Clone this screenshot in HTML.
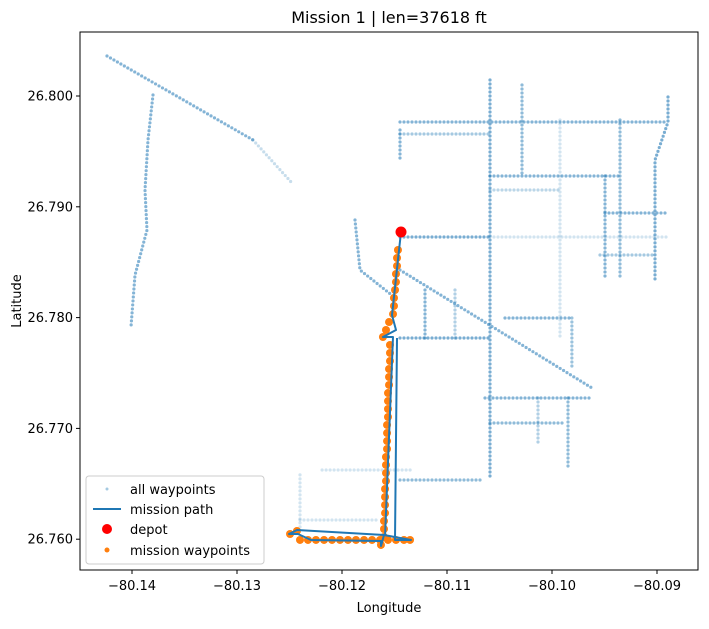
<!DOCTYPE html>
<html><head><meta charset="utf-8"><style>
body{margin:0;background:#fff;font-family:"Liberation Sans","DejaVu Sans",sans-serif;}
svg text{font-family:"DejaVu Sans","Liberation Sans",sans-serif;fill:#000;}
</style></head><body>
<svg id="chart" width="709" height="624" viewBox="0 0 709 624" xmlns="http://www.w3.org/2000/svg">
<rect x="0" y="0" width="709" height="624" fill="#fff"/>
<text x="389" y="23" font-size="16" text-anchor="middle">Mission 1 | len=37618 ft</text>
<g id="plot"></g>
<rect x="80" y="32" width="618" height="538" fill="none" stroke="#000" stroke-width="1"/>
<g id="axes"></g>
<text x="389" y="612" font-size="13" text-anchor="middle">Longitude</text>
<text x="21" y="301" font-size="13" text-anchor="middle" transform="rotate(-90 21 301)">Latitude</text>
<g>
<rect x="86" y="476" width="178" height="88" rx="3" fill="#fff" fill-opacity="0.8" stroke="#ccc"/>
<circle cx="107" cy="489" r="1.5" fill="#1f77b4" opacity="0.4"/>
<text x="130" y="494" font-size="13">all waypoints</text>
<line x1="93" y1="509" x2="121" y2="509" stroke="#1f77b4" stroke-width="2"/>
<text x="130" y="514" font-size="13">mission path</text>
<circle cx="107" cy="529" r="5" fill="#ff0000"/>
<text x="130" y="534" font-size="13">depot</text>
<circle cx="107" cy="550" r="2.5" fill="#ff7f0e"/>
<text x="130" y="555" font-size="13">mission waypoints</text>
</g>
</svg>
<script>
const xTicks=[-80.14,-80.13,-80.12,-80.11,-80.10,-80.09];
const xTickLabels=["\u221280.14","\u221280.13","\u221280.12","\u221280.11","\u221280.10","\u221280.09"];
const yTicks=[26.76,26.77,26.78,26.79,26.80];
const yTickLabels=["26.760","26.770","26.780","26.790","26.800"];
// street polylines of all waypoints: [lon,lat,...], alpha
const streets=[
[[-80.14238,26.80361,-80.12848,26.79603],0.55],
[[-80.12848,26.79603,-80.12476,26.79215],0.25],
[[-80.13800,26.80009,-80.13848,26.79603,-80.13876,26.79152,-80.13857,26.78791,-80.13971,26.78384,-80.14010,26.77906],0.55],
[[-80.10590,26.80144,-80.10590,26.76534],0.6],
[[-80.08895,26.79991,-80.08895,26.79765,-80.09019,26.79422,-80.09019,26.78339],0.6],
[[-80.11448,26.79765,-80.08895,26.79765],0.55],
[[-80.11448,26.79657,-80.10590,26.79657],0.4],
[[-80.11448,26.79693,-80.11448,26.79422],0.55],
[[-80.10590,26.79278,-80.09352,26.79278],0.55],
[[-80.10590,26.79152,-80.09924,26.79152],0.3],
[[-80.09495,26.78944,-80.08895,26.78944],0.55],
[[-80.11448,26.78727,-80.10590,26.78727],0.6],
[[-80.10590,26.78727,-80.08895,26.78727],0.2],
[[-80.09543,26.78565,-80.09019,26.78565],0.4],
[[-80.10286,26.80099,-80.10286,26.79278],0.5],
[[-80.09924,26.79783,-80.09924,26.77798],0.2],
[[-80.09495,26.79278,-80.09495,26.78339],0.55],
[[-80.09352,26.79783,-80.09352,26.78339],0.5],
[[-80.11448,26.78430,-80.09619,26.77365],0.55],
[[-80.10448,26.77996,-80.09810,26.77996],0.55],
[[-80.09810,26.77996,-80.09810,26.77527],0.45],
[[-80.11448,26.77816,-80.10590,26.77816],0.6],
[[-80.11210,26.78249,-80.11210,26.77798],0.55],
[[-80.10924,26.78249,-80.10924,26.77798],0.35],
[[-80.10638,26.77274,-80.09638,26.77274],0.55],
[[-80.09848,26.77274,-80.09848,26.76625],0.5],
[[-80.10133,26.77274,-80.10133,26.76850],0.35],
[[-80.10590,26.77049,-80.09876,26.77049],0.5],
[[-80.11448,26.76534,-80.10667,26.76534],0.5],
[[-80.11876,26.78881,-80.11829,26.78430,-80.11467,26.78159],0.55],
[[-80.12190,26.76625,-80.11333,26.76625],0.2],
[[-80.12400,26.76173,-80.11638,26.76173],0.2],
[[-80.12400,26.76580,-80.12400,26.76083],0.2]
];
// mission path vertices
const pathLon=[-80.11438,-80.11524,-80.11486,-80.11610,-80.11514,-80.11590,-80.12429,-80.12505,-80.12419,-80.12295,-80.11629,-80.11629,-80.11600,-80.11343,-80.11495,-80.11476];
const pathLat=[26.78773,26.78023,26.77888,26.77825,26.77825,26.76038,26.76083,26.76047,26.76047,26.75993,26.75984,26.75939,26.76038,26.75993,26.75993,26.77816];
const depot=[-80.11438,26.78773];
const mwLon=[-80.11467,-80.11476,-80.11476,-80.11486,-80.11486,-80.11495,-80.11505,-80.11505,-80.11514,-80.11552,-80.11581,-80.11610,
-80.11543,-80.11543,-80.11543,-80.11552,-80.11552,-80.11552,-80.11562,-80.11562,-80.11562,-80.11562,-80.11571,-80.11571,-80.11571,-80.11571,-80.11581,-80.11581,-80.11581,-80.11581,-80.11590,-80.11590,-80.11590,-80.11590,-80.11600,-80.11600,-80.11600,
-80.12400,-80.12324,-80.12248,-80.12171,-80.12095,-80.12019,-80.11943,-80.11867,-80.11790,-80.11714,-80.11638,-80.11562,-80.11486,-80.11410,-80.11352,
-80.12495,-80.12429,-80.11629];
const mwLat=[26.78610,26.78538,26.78466,26.78394,26.78321,26.78249,26.78177,26.78105,26.78032,26.77960,26.77888,26.77825,
26.77753,26.77681,26.77608,26.77536,26.77464,26.77392,26.77319,26.77247,26.77175,26.77103,26.77031,26.76958,26.76886,26.76814,26.76742,26.76670,26.76597,26.76525,26.76453,26.76381,26.76309,26.76236,26.76164,26.76092,26.76020,
26.75993,26.75993,26.75993,26.75993,26.75993,26.75993,26.75993,26.75993,26.75993,26.75993,26.75993,26.75993,26.75993,26.75993,26.75993,
26.76047,26.76074,26.75948];

const NS="http://www.w3.org/2000/svg";
function X(lon){return 132+(lon+80.14)*10500;}
function Y(lat){return 96+(26.80-lat)*11080;}
function mk(tag,attrs,parent){const e=document.createElementNS(NS,tag);for(const k in attrs)e.setAttribute(k,attrs[k]);parent.appendChild(e);return e;}
const plot=document.getElementById('plot');
const axes=document.getElementById('axes');
streets.forEach((s,i)=>{
  const c=s[0];let pts=[];
  for(let j=0;j<c.length;j+=2)pts.push(X(c[j]).toFixed(1)+","+Y(c[j+1]).toFixed(1));
  const e=mk('polyline',{points:pts.join(" "),fill:"none",stroke:"#1f77b4","stroke-width":3.2,"stroke-linecap":"round","stroke-dasharray":"0 4","stroke-opacity":s[1]},plot);
  
  
});
mwLon.forEach((lon,i)=>{
  const e=mk('circle',{cx:X(lon),cy:Y(mwLat[i]),r:4,fill:"#ff7f0e"},plot);
  
  
});
const pp=pathLon.map((l,i)=>X(l).toFixed(1)+","+Y(pathLat[i]).toFixed(1)).join(" ");
const path=mk('polyline',{points:pp,fill:"none",stroke:"#1f77b4","stroke-width":2,"stroke-linejoin":"round"},plot);


const dp=mk('circle',{cx:X(depot[0]),cy:Y(depot[1]),r:5.5,fill:"#ff0000"},plot);


xTicks.forEach((v,i)=>{
  const x=X(v);
  mk('line',{x1:x,y1:570,x2:x,y2:574,stroke:"#000"},axes);
  const t=mk('text',{x:x,y:590,"font-size":13,"text-anchor":"middle"},axes);
  t.textContent=xTickLabels[i];
  
  
});
yTicks.forEach((v,i)=>{
  const y=Y(v);
  mk('line',{x1:76,y1:y,x2:80,y2:y,stroke:"#000"},axes);
  const t=mk('text',{x:73,y:y+4.5,"font-size":13,"text-anchor":"end"},axes);
  t.textContent=yTickLabels[i];
  
  
});
</script>
</body></html>
